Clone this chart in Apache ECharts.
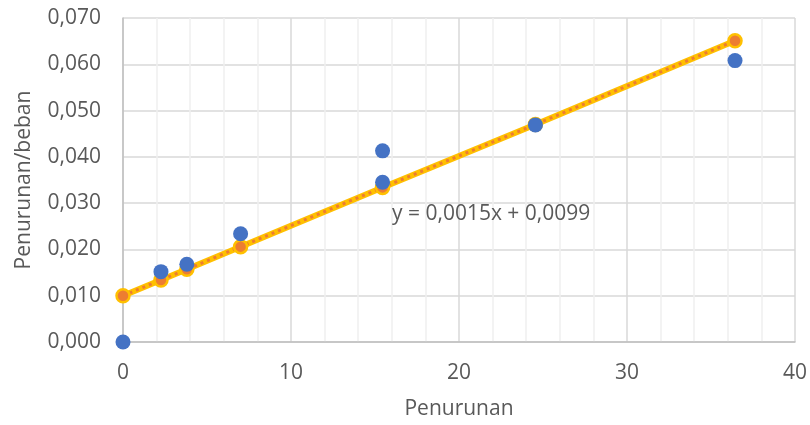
<!DOCTYPE html>
<html>
<head>
<meta charset="utf-8">
<script src="https://cdn.jsdelivr.net/npm/echarts@6/dist/echarts.min.js"></script>
<style>html,body{margin:0;padding:0;background:#fff}#c{width:810px;height:425px}</style>
</head>
<body>
<div id="c"></div>
<script>
// Observed data (blue points)
const obsX = [0, 2.26, 3.8, 7.0, 15.45, 15.45, 24.55, 36.43];
const obsY = [0.0000, 0.0152, 0.0168, 0.0234, 0.0413, 0.0345, 0.0469, 0.0608];
// Predicted values along trendline (orange points)
const fitX = [0, 2.26, 3.8, 7.0, 15.45, 24.55, 36.43];
const fitY = [0.0100, 0.0134, 0.0157, 0.0206, 0.0334, 0.0470, 0.0651];
const xTicks = [0, 10, 20, 30, 40];
const yTicks = [0.000, 0.010, 0.020, 0.030, 0.040, 0.050, 0.060, 0.070];
const xTitle = 'Penurunan';
const yTitle = 'Penurunan/beban';
const equation = 'y = 0,0015x + 0,0099';

const FONT = 'Open Sans';
const TXT = '#595959';
const chart = echarts.init(document.getElementById('c'), null, {renderer: 'canvas'});
const pair = (xs, ys) => xs.map((x, i) => [x, ys[i]]);

chart.setOption({
  animation: false,
  grid: {left: 123, right: 15, top: 18, bottom: 81},
  xAxis: {
    type: 'value', min: xTicks[0], max: xTicks[xTicks.length - 1], interval: 10,
    name: xTitle, nameLocation: 'middle', nameGap: 57,
    nameTextStyle: {fontFamily: FONT, fontSize: 21, color: TXT},
    axisLine: {show: true, lineStyle: {color: '#bfbfbf', width: 1.5}},
    axisTick: {show: false},
    axisLabel: {fontFamily: FONT, fontSize: 21, color: TXT, margin: 21},
    splitLine: {show: true, lineStyle: {color: '#d9d9d9', width: 1.5}},
    minorTick: {show: false, splitNumber: 5},
    minorSplitLine: {show: true, lineStyle: {color: '#efefef', width: 1.5}}
  },
  yAxis: {
    type: 'value', min: yTicks[0], max: yTicks[yTicks.length - 1], interval: 0.01,
    name: yTitle, nameLocation: 'middle', nameGap: 88,
    nameTextStyle: {fontFamily: FONT, fontSize: 21, color: TXT},
    axisLine: {show: true, lineStyle: {color: '#bfbfbf', width: 1.5}},
    axisTick: {show: false},
    axisLabel: {fontFamily: FONT, fontSize: 21, color: TXT, margin: 22,
      formatter: v => v.toFixed(3).replace('.', ',')},
    splitLine: {show: true, lineStyle: {color: '#d9d9d9', width: 1.5}}
  },
  series: [
    {
      type: 'line', data: pair(fitX, fitY), symbol: 'none', z: 2,
      lineStyle: {color: '#FFC000', width: 6}
    },
    {
      type: 'line', data: pair(fitX, fitY), z: 3,
      symbol: 'none',
      lineStyle: {color: '#ED7D31', width: 3, type: [3, 4], cap: 'butt'}
    },
    {
      type: 'scatter', data: pair(fitX, fitY), z: 4,
      symbol: 'circle', symbolSize: 13,
      itemStyle: {color: '#ED7D31', borderColor: '#FFC000', borderWidth: 2.5, opacity: 1}
    },
    {
      type: 'scatter', data: pair(obsX, obsY), z: 5,
      symbol: 'circle', symbolSize: 15,
      itemStyle: {color: '#4472C4', opacity: 1}
    }
  ],
  graphic: [{
    type: 'text', left: 392, top: 204, z: 10,
    style: {text: equation, fontFamily: FONT, fontSize: 21, fill: TXT}
  }]
});
</script>
</body>
</html>
